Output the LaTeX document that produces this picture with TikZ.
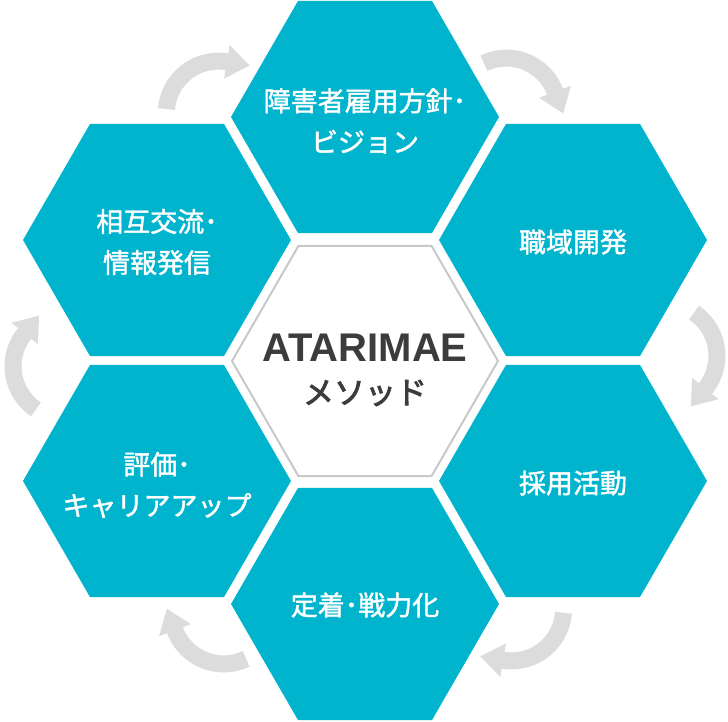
\documentclass[tikz,border=0pt]{standalone}
\usepackage{fontspec}
\usetikzlibrary{shapes.geometric,calc}
\newfontfamily\jpm{Noto Sans CJK JP}[FakeBold=1.6]
\newfontfamily\jpb{Noto Sans CJK JP}[FakeBold=2.8]
\newfontfamily\latb{Liberation Sans Bold}
\definecolor{hexblue}{HTML}{00B4CE}
\definecolor{flowgray}{HTML}{DCDCDC}
\definecolor{rimgray}{HTML}{C8C8C8}
\definecolor{darktext}{HTML}{3C3C3C}
\newcommand\flowarrow[2]{%
  \pgfmathsetmacro\fastart{#2+55}%
  \pgfmathsetmacro\faend{#2-42}%
  \pgfmathsetmacro\fabase{#2-40}%
  \pgfmathsetmacro\fadir{#2-130}%
  \draw[flowbody] ($(#1)+(\fastart:52)$) arc[start angle=\fastart, end angle=\faend, radius=52];
  \fill[flowgray] ($(#1)+(\fabase:35)$) -- ($(#1)+(\fabase:69)$) -- ($(#1)+(\fabase:52)+(\fadir:23)$) -- cycle;
}
\begin{document}
\begin{tikzpicture}[x=1pt,y=1pt,
  hexa/.style={regular polygon, regular polygon sides=6, minimum size=268pt,
    inner sep=0pt, outer sep=0pt, fill=hexblue, draw=none},
  hexc/.style={regular polygon, regular polygon sides=6, minimum size=266pt,
    inner sep=0pt, outer sep=0pt, fill=white, draw=rimgray, line width=2pt},
  lbl/.style={align=center, text=white, inner sep=0pt,
    font=\jpm\fontsize{27}{41}\selectfont},
  flowbody/.style={draw=flowgray, line width=17pt, line cap=butt}
]
\useasboundingbox (-365,-361) rectangle (363,361);
\fill[white] (-365,-361) rectangle (363,361);

% arc centres of the flow arrows
\coordinate (a1) at (120.6:288);
\coordinate (a2) at (60.6:288);
\coordinate (a3) at (1:300);
\coordinate (a4) at (-59.4:288);
\coordinate (a5) at (-119.4:288);
\coordinate (a6) at (181:300);
\flowarrow{a1}{120.6}
\flowarrow{a2}{60.6}
\flowarrow{a3}{1}
\flowarrow{a4}{-59.4}
\flowarrow{a5}{-119.4}
\flowarrow{a6}{181}

% hexagons
\node[hexa] (h1) at (0,244) {};
\node[hexa] (h2) at (208,121) {};
\node[hexa] (h3) at (208,-120) {};
\node[hexa] (h4) at (0,-243) {};
\node[hexa] (h5) at (-208,-120) {};
\node[hexa] (h6) at (-208,121) {};
\node[hexc] (hc) at (0,0) {};

% labels
\node[lbl] (t1) at ([yshift=-4pt]h1.center) {障害者雇用方針･\\ビジョン};
\node[lbl] (t2) at ([yshift=-2pt]h2.center) {職域開発};
\node[lbl] (t3) at ([yshift=-2pt]h3.center) {採用活動};
\node[lbl] (t4) at ([yshift=-1pt]h4.center) {定着･戦力化};
\node[lbl] (t5) at ([yshift=-4pt]h5.center) {評価･\\キャリアアップ};
\node[lbl] (t6) at ([yshift=-2pt]h6.center) {相互交流･\\情報発信};

\node[text=darktext, inner sep=0pt, font=\latb\fontsize{40}{42}\selectfont] (c1) at (0,13) {ATARIMAE};
\node[text=darktext, inner sep=0pt, font=\jpb\fontsize{31}{34}\selectfont] (c2) at (0,-32) {メソッド};
\end{tikzpicture}
\end{document}
